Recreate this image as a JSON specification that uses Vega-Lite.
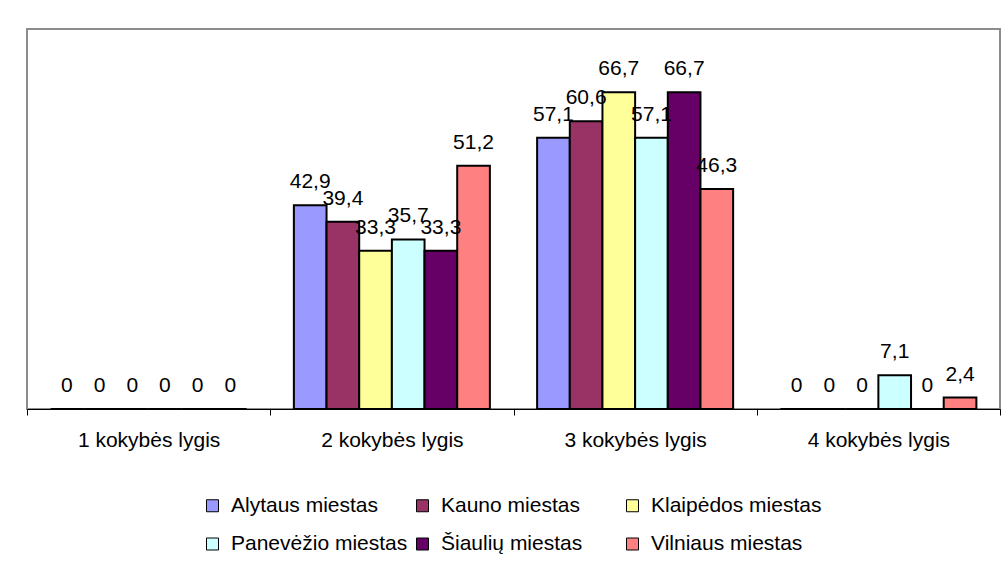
{
  "$schema": "https://vega.github.io/schema/vega-lite/v6.json",
  "width": 973,
  "height": 380,
  "autosize": {"type": "none"},
  "padding": {"left": 27, "top": 29, "right": 8, "bottom": 153},
  "background": "white",
  "config": {
    "font": "Liberation Sans",
    "locale": {"number": {"decimal": ",", "thousands": " ", "grouping": [3], "currency": ["", ""]}},
    "view": {"stroke": "#8c8c8c", "strokeWidth": 2}
  },
  "data": {
    "values": [
      {"lygis": "1 kokybės lygis", "miestas": "Alytaus miestas", "proc": 0},
      {"lygis": "1 kokybės lygis", "miestas": "Kauno miestas", "proc": 0},
      {"lygis": "1 kokybės lygis", "miestas": "Klaipėdos miestas", "proc": 0},
      {"lygis": "1 kokybės lygis", "miestas": "Panevėžio miestas", "proc": 0},
      {"lygis": "1 kokybės lygis", "miestas": "Šiaulių miestas", "proc": 0},
      {"lygis": "1 kokybės lygis", "miestas": "Vilniaus miestas", "proc": 0},
      {"lygis": "2 kokybės lygis", "miestas": "Alytaus miestas", "proc": 42.9},
      {"lygis": "2 kokybės lygis", "miestas": "Kauno miestas", "proc": 39.4},
      {"lygis": "2 kokybės lygis", "miestas": "Klaipėdos miestas", "proc": 33.3},
      {"lygis": "2 kokybės lygis", "miestas": "Panevėžio miestas", "proc": 35.7},
      {"lygis": "2 kokybės lygis", "miestas": "Šiaulių miestas", "proc": 33.3},
      {"lygis": "2 kokybės lygis", "miestas": "Vilniaus miestas", "proc": 51.2},
      {"lygis": "3 kokybės lygis", "miestas": "Alytaus miestas", "proc": 57.1},
      {"lygis": "3 kokybės lygis", "miestas": "Kauno miestas", "proc": 60.6},
      {"lygis": "3 kokybės lygis", "miestas": "Klaipėdos miestas", "proc": 66.7},
      {"lygis": "3 kokybės lygis", "miestas": "Panevėžio miestas", "proc": 57.1},
      {"lygis": "3 kokybės lygis", "miestas": "Šiaulių miestas", "proc": 66.7},
      {"lygis": "3 kokybės lygis", "miestas": "Vilniaus miestas", "proc": 46.3},
      {"lygis": "4 kokybės lygis", "miestas": "Alytaus miestas", "proc": 0},
      {"lygis": "4 kokybės lygis", "miestas": "Kauno miestas", "proc": 0},
      {"lygis": "4 kokybės lygis", "miestas": "Klaipėdos miestas", "proc": 0},
      {"lygis": "4 kokybės lygis", "miestas": "Panevėžio miestas", "proc": 7.1},
      {"lygis": "4 kokybės lygis", "miestas": "Šiaulių miestas", "proc": 0},
      {"lygis": "4 kokybės lygis", "miestas": "Vilniaus miestas", "proc": 2.4}
    ]
  },
  "encoding": {
    "x": {
      "field": "lygis",
      "type": "nominal",
      "sort": ["1 kokybės lygis", "2 kokybės lygis", "3 kokybės lygis", "4 kokybės lygis"],
      "scale": {"paddingInner": 0, "paddingOuter": 0},
      "axis": {
        "title": null,
        "labelAngle": 0,
        "labelFontSize": 21,
        "labelColor": "black",
        "labelPadding": 14,
        "domainColor": "black",
        "domainWidth": 1,
        "tickColor": "black",
        "tickSize": 6,
        "tickBand": "extent",
        "grid": false
      }
    },
    "xOffset": {
      "field": "miestas",
      "type": "nominal",
      "sort": ["Alytaus miestas", "Kauno miestas", "Klaipėdos miestas", "Panevėžio miestas", "Šiaulių miestas", "Vilniaus miestas"],
      "scale": {"paddingInner": 0, "paddingOuter": 0.723}
    },
    "y": {
      "field": "proc",
      "type": "quantitative",
      "scale": {"domain": [0, 80], "nice": false},
      "axis": null
    }
  },
  "layer": [
    {
      "mark": {"type": "bar", "stroke": "black", "strokeWidth": 2, "opacity": 1},
      "encoding": {
        "color": {
          "field": "miestas",
          "type": "nominal",
          "scale": {
            "domain": ["Alytaus miestas", "Kauno miestas", "Klaipėdos miestas", "Panevėžio miestas", "Šiaulių miestas", "Vilniaus miestas"],
            "range": ["#9999FF", "#993366", "#FFFF99", "#CCFFFF", "#660066", "#FF8080"]
          },
          "legend": {
            "orient": "none",
            "legendX": 175,
            "legendY": 466,
            "columns": 3,
            "direction": "horizontal",
            "title": null,
            "symbolType": "square",
            "symbolSize": 144,
            "symbolStrokeColor": "black",
            "symbolStrokeWidth": 1,
            "symbolOpacity": 1,
            "labelFontSize": 21,
            "labelColor": "black",
            "labelFont": "Liberation Sans",
            "labelOffset": 8,
            "labelLimit": 400,
            "columnPadding": 4,
            "rowPadding": 16.5,
            "gridAlign": "all",
            "padding": 0
          }
        }
      }
    },
    {
      "mark": {"type": "text", "baseline": "alphabetic", "dy": -17, "fontSize": 21, "color": "black"},
      "encoding": {
        "text": {"field": "proc", "type": "quantitative", "format": ".1~f"}
      }
    }
  ]
}
